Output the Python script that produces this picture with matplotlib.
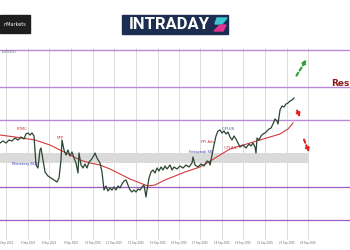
import numpy as np
import matplotlib
matplotlib.use("Agg")
import matplotlib.pyplot as plt
from matplotlib.patches import Rectangle, Polygon
from matplotlib.transforms import Affine2D

# price path (bar index, close)
bars = [0, 3, 6, 9, 12, 15, 18, 21, 24, 26, 28, 30, 32, 34, 35, 36, 38, 40, 41, 43,
        45, 48, 51, 54, 57, 59, 61, 62, 64, 66, 68, 70, 72, 74, 76, 78, 79, 81, 83, 85,
        87, 89, 91, 93, 95, 97, 100, 102, 104, 106, 108, 110, 112, 114, 116, 118, 120, 122, 124, 126,
        128, 130, 132, 134, 136, 138, 140, 142, 144, 146, 147, 149, 151, 153, 155, 157, 159, 161, 163, 165,
        167, 170, 172, 174, 177, 180, 183, 186, 189, 192, 193, 195, 198, 201, 204, 207, 209, 210, 212, 214,
        216, 218, 220, 222, 224, 226, 228, 230, 232, 234, 236, 238, 240, 243, 246, 249, 251, 253, 255, 256,
        257, 259, 261, 263, 265, 267, 269, 271, 273, 275, 277, 278, 280, 282, 284, 286, 288, 290, 292, 294]
close = [1.1771, 1.1777, 1.1771, 1.1780, 1.1777, 1.1786, 1.1780, 1.1789, 1.1783, 1.1798,
         1.1801, 1.1795, 1.1801, 1.1792, 1.1750, 1.1705, 1.1696, 1.1750, 1.1756, 1.1720,
         1.1684, 1.1672, 1.1666, 1.1660, 1.1654, 1.1666, 1.1720, 1.1780, 1.1750, 1.1735,
         1.1750, 1.1732, 1.1744, 1.1726, 1.1711, 1.1681, 1.1741, 1.1705, 1.1696, 1.1708,
         1.1696, 1.1714, 1.1720, 1.1729, 1.1741, 1.1726, 1.1711, 1.1684, 1.1630, 1.1642,
         1.1627, 1.1636, 1.1630, 1.1639, 1.1630, 1.1642, 1.1636, 1.1648, 1.1657, 1.1660,
         1.1645, 1.1630, 1.1624, 1.1630, 1.1624, 1.1633, 1.1630, 1.1639, 1.1645, 1.1609,
         1.1630, 1.1666, 1.1684, 1.1690, 1.1681, 1.1696, 1.1687, 1.1699, 1.1690, 1.1702,
         1.1693, 1.1705, 1.1690, 1.1699, 1.1693, 1.1702, 1.1696, 1.1705, 1.1699, 1.1711,
         1.1729, 1.1705, 1.1699, 1.1708, 1.1702, 1.1717, 1.1714, 1.1705, 1.1735, 1.1765,
         1.1792, 1.1807, 1.1810, 1.1801, 1.1807, 1.1798, 1.1804, 1.1789, 1.1780, 1.1792,
         1.1783, 1.1771, 1.1759, 1.1765, 1.1756, 1.1768, 1.1762, 1.1771, 1.1759, 1.1741,
         1.1786, 1.1780, 1.1792, 1.1798, 1.1801, 1.1807, 1.1813, 1.1816, 1.1828, 1.1843,
         1.1837, 1.1828, 1.1870, 1.1882, 1.1879, 1.1888, 1.1891, 1.1897, 1.1900, 1.1906]

# moving average
ma_bars = [0, 15, 35, 50, 60, 70, 80, 90, 100, 110, 120, 130, 140, 148, 155, 165, 175, 185, 200,
           212, 220, 230, 240, 250, 260, 270, 280, 288, 293]
ma = [1.1795, 1.1789, 1.1780, 1.1765, 1.1750, 1.1735, 1.1720, 1.1711, 1.1705, 1.1693, 1.1678,
      1.1663, 1.1651, 1.1642, 1.1645, 1.1660, 1.1672, 1.1684, 1.1699, 1.1720, 1.1735, 1.1753,
      1.1762, 1.1771, 1.1780, 1.1789, 1.1798, 1.1813, 1.1831]

levels_top = [1.2050, 1.1940, 1.1840]
levels_bot = [1.1640, 1.1540]
zone = (1.1711, 1.1740)

grid_x = [6, 28, 49, 71, 93, 114, 136, 158, 179, 200, 222, 243, 265, 287, 308]
date_labels = ["4 Sep 2025", "5 Sep 2025", "8 Sep 2025", "9 Sep 2025", "10 Sep 2025",
               "11 Sep 2025", "12 Sep 2025", "15 Sep 2025", "16 Sep 2025", "17 Sep 2025",
               "18 Sep 2025", "19 Sep 2025", "22 Sep 2025", "23 Sep 2025", "24 Sep 2025"]

events = [("FOMC", 22, 1.1812, "#d03030"), ("NFP", 60, 1.1785, "#d03030"),
          ("Monetary BOE", 25, 1.1707, "#3a3aa8"), ("Fedspeak SN", 201, 1.1745, "#3a3aa8"),
          ("PPI Adv", 208, 1.1775, "#d03030"), ("CPI US", 228, 1.1812, "#3a3aa8"),
          ("CPI A/L", 230, 1.1757, "#d03030")]

fig = plt.figure(figsize=(3.5, 2.5), dpi=100)
fig.patch.set_facecolor("white")
ax = fig.add_axes([0, 0.04, 1, 0.768])
ax.set_xlim(0, 350)
ax.set_ylim(1.1480, 1.2056)
for s in ax.spines.values():
    s.set_visible(False)
ax.set_yticks([])
ax.set_xticks(grid_x)
ax.set_xticklabels(date_labels, fontsize=1.8, color="#666666")
ax.tick_params(axis="x", length=0, pad=1)

for gx in grid_x:
    ax.axvline(gx, color="#cfcfcf", lw=0.5, zorder=1)

ax.fill_between([0, 308], zone[0], zone[1], color="#dadada", zorder=1, lw=0)

for lv in levels_top:
    ax.axhline(lv, color="#b98ad8", lw=1.0, zorder=2)
for lv in levels_bot:
    ax.axhline(lv, color="#9c5ec4", lw=0.9, zorder=2)

ax.plot(ma_bars, ma, color="#d23a3a", lw=0.8, zorder=3)
ax.plot(bars, close, color="#2b4632", lw=0.9, zorder=4)

for txt, x, y, c in events:
    ax.text(x, y, txt, fontsize=2.6, color=c, ha="center", va="center", zorder=5)

ax.text(349, 1.1948, "Res", fontsize=6.5, fontweight="bold", color="#8b1a1a",
        va="center", ha="right")
ax.text(2, 1.2043, "EURUSD,H1", fontsize=1.8, color="#666666", va="center")

arrow_style = dict(arrowstyle="-|>", lw=1.5, linestyle=(0, (1.6, 1.3)), mutation_scale=5)
ax.annotate("", xy=(308, 1.2029), xytext=(295, 1.1966),
            arrowprops=dict(color="#2e9e2e", **arrow_style))
ax.annotate("", xy=(301, 1.1840), xytext=(296, 1.1876),
            arrowprops=dict(color="#e02020", **arrow_style))
ax.annotate("", xy=(310, 1.1735), xytext=(303, 1.1789),
            arrowprops=dict(color="#e02020", **arrow_style))

# logos, placed in pixel coordinates from the top-left
pix = Affine2D().scale(1 / 350, -1 / 250).translate(0, 1) + fig.transFigure
fig.add_artist(Rectangle((0, 15), 30, 18, transform=pix, color="#1e1e1e"))
fig.text(15, 24, "nMarkets", transform=pix, fontsize=3.5, color="white", ha="center", va="center")
fig.add_artist(Rectangle((122, 15), 106, 19, transform=pix, color="#1b2d50"))
fig.text(169, 24.5, "INTRADAY", transform=pix, fontsize=12, fontweight="bold",
         color="white", ha="center", va="center", family="Roboto")
fig.add_artist(Polygon([(217, 18), (227, 18), (222, 24), (215, 24)], transform=pix, color="#3cc6d2"))
fig.add_artist(Polygon([(220, 25), (226, 25), (223, 31), (214, 31)], transform=pix, color="#e2338e"))

fig.savefig("out.png", dpi=100)
